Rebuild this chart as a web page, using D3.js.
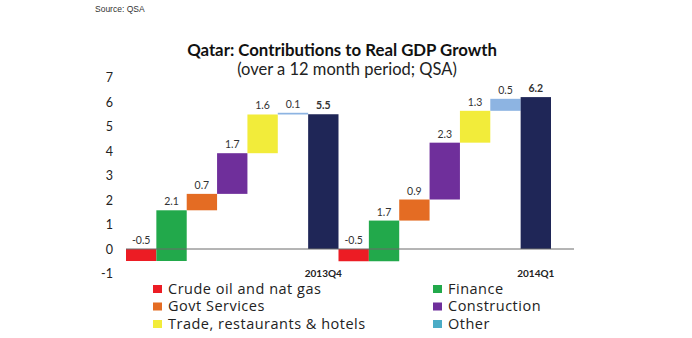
<!DOCTYPE html>
<html>
<head>
<meta charset="utf-8">
<script src="https://cdn.jsdelivr.net/npm/d3@7"></script>
<style>
  body { margin: 0; background: #fff; }
  svg { display: block; font-family: Lato, "Open Sans", sans-serif; }
</style>
</head>
<body>
<svg id="chart" width="692" height="338"></svg>
<script>
// data
const categories = ["Crude oil and nat gas", "Finance", "Govt Services", "Construction", "Trade, restaurants & hotels", "Other"];
const periods = ["2013Q4", "2014Q1"];
const values2013Q4 = [-0.49, 2.07, 0.67, 1.66, 1.58, 0.07];
const values2014Q1 = [-0.5, 1.66, 0.86, 2.32, 1.3, 0.49];
const totals = [5.5, 6.2];
const yTicks = [-1, 0, 1, 2, 3, 4, 5, 6, 7];

const barColors = ["#ec1c24", "#22a94b", "#e46c23", "#6f2f9b", "#f2ec3a", "#8db4e2"];
const legendColors = ["#ec1c24", "#22a94b", "#e46c23", "#6f2f9b", "#f2ec3a", "#4bacc6"];
const totalColor = "#1f2657";

const svg = d3.select("#chart");

// plain hyphen for negatives, like the original
const locale = d3.formatLocale({ decimal: ".", thousands: ",", grouping: [3], currency: ["", ""], minus: "-" });

// build the step list for each period: 6 contributions then the total
let steps = [];
[values2013Q4, values2014Q1].forEach((vals, p) => {
  let cum = 0;
  vals.forEach((v, i) => {
    steps.push({ key: periods[p] + "-" + i, start: cum, end: cum + v, value: v, color: barColors[i], total: false });
    cum += v;
  });
  steps.push({ key: periods[p] + "-total", start: 0, end: totals[p], value: totals[p], color: totalColor, total: true, period: periods[p] });
});

let x = d3.scaleBand().domain(steps.map(d => d.key)).range([126, 551]).padding(0);
let y = d3.scaleLinear().domain([-1, 7]).range([273.5, 77.5]);
let fmt = locale.format(".1f");

// source + titles
svg.append("text").attr("x", 95).attr("y", 12).attr("font-size", 8.5).attr("fill", "#333")
  .attr("font-family", "'Liberation Sans Narrow', 'Liberation Sans', sans-serif").text("Source: QSA");
svg.append("text").attr("x", 342).attr("y", 56).attr("text-anchor", "middle").attr("font-size", 16.8)
  .attr("font-weight", "bold").attr("fill", "#111").text("Qatar: Contributions to Real GDP Growth");
svg.append("text").attr("x", 347).attr("y", 75).attr("text-anchor", "middle").attr("font-size", 16.5)
  .attr("fill", "#222").text("(over a 12 month period; QSA)");

// y axis labels only
let yAxis = g => g.attr("transform", "translate(113,0)")
  .call(d3.axisLeft(y).tickValues(yTicks).tickSize(0).tickPadding(0).tickFormat(locale.format("d")))
  .call(g => g.select(".domain").remove())
  .call(g => g.selectAll("text").attr("font-size", 12.5).attr("fill", "#222").attr("font-family", "Lato, sans-serif"));
svg.append("g").call(yAxis);

// bars
svg.append("g").selectAll("rect").data(steps).join("rect")
  .attr("x", d => x(d.key))
  .attr("y", d => y(Math.max(d.start, d.end)))
  .attr("width", x.bandwidth())
  .attr("height", d => Math.max(1.5, Math.abs(y(d.start) - y(d.end))))
  .attr("fill", d => d.color);

// zero line over the bars
svg.append("line").attr("x1", 126).attr("x2", 574).attr("y1", y(0)).attr("y2", y(0))
  .attr("stroke", "#6b6b6b").attr("stroke-width", 1);

// value labels
svg.append("g").selectAll("text").data(steps).join("text")
  .attr("x", d => x(d.key) + x.bandwidth() / 2)
  .attr("y", d => y(Math.max(d.start, d.end)) - 5)
  .attr("text-anchor", "middle")
  .attr("font-size", 10.5)
  .attr("font-weight", d => d.total ? "bold" : "normal")
  .attr("fill", "#333")
  .text(d => fmt(d.value));

// period labels under the totals
svg.append("g").selectAll("text").data(steps.filter(d => d.total)).join("text")
  .attr("x", d => x(d.key) + x.bandwidth() / 2)
  .attr("y", 277)
  .attr("text-anchor", "middle")
  .attr("font-size", 10)
  .attr("font-weight", "bold")
  .attr("fill", "#222")
  .text(d => d.period);

// legend, two columns
let legend = svg.append("g").selectAll("g").data(categories).join("g")
  .attr("transform", (d, i) => `translate(${i % 2 ? 433 : 153},${285 + Math.floor(i / 2) * 17.5})`);
legend.append("rect").attr("width", 9).attr("height", 8).attr("fill", (d, i) => legendColors[i]);
legend.append("text").attr("x", 15).attr("y", 8.5).attr("font-size", 14.5).attr("letter-spacing", 0.5)
  .attr("fill", "#222").attr("font-family", "'Open Sans', sans-serif").text(d => d);
</script>
</body>
</html>
